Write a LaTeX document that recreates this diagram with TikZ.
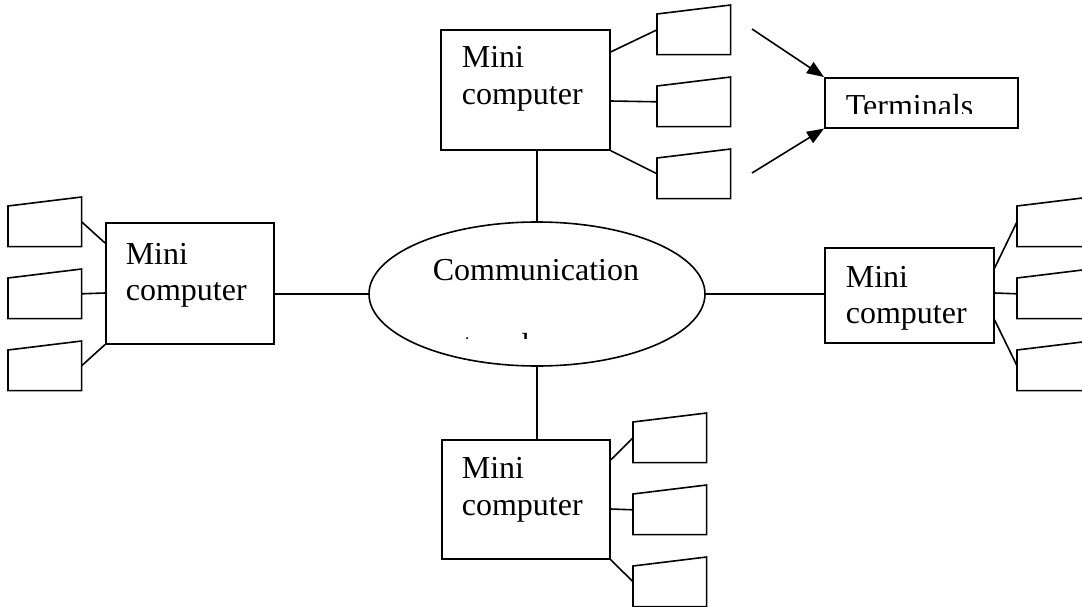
\documentclass[tikz,border=0pt]{standalone}
\usepackage{fontspec}
\setmainfont{Liberation Serif}
\usetikzlibrary{arrows.meta,calc,shapes.geometric}
\newcommand\termi[3]{%
  \node[termbase] (#1) at (#2,#3) {};
  \draw (#1.south west) -- ([yshift=-9pt]#1.north west) -- (#1.north east) -- (#1.south east) -- cycle;}
\begin{document}
\begin{tikzpicture}[x=1pt,y=-1pt,line width=1.6pt,
  mbox/.style={draw,rectangle,inner sep=0,anchor=north west},
  termbase/.style={rectangle,inner sep=0,anchor=north west,minimum width=72pt,minimum height=48pt},
  lbl/.style={anchor=base west,inner sep=0,font=\fontsize{32}{37}\selectfont},
  arr/.style={-{Triangle[length=17pt,width=13pt]}}]
\useasboundingbox (0,0) rectangle (1082,607);
\clip (0,0) rectangle (1082,607);
\fill[white] (0,0) rectangle (1082,607);

% minicomputer boxes
\node[mbox,minimum width=169pt,minimum height=120pt] (tbox) at (440,29) {};
\node[mbox,minimum width=168pt,minimum height=121pt] (lbox) at (105,222) {};
\node[mbox,minimum width=169pt,minimum height=95pt] (rbox) at (824,247) {};
\node[mbox,minimum width=168pt,minimum height=119pt] (bbox) at (441,439) {};
\node[mbox,minimum width=193pt,minimum height=50pt] (term) at (824,77) {};

\node[lbl] (tA) at (461,68) {Mini};
\node[lbl] (tB) at (461,105) {computer};
\node[lbl] (lA) at (125,264) {Mini};
\node[lbl] (lB) at (125,300) {computer};
\node[lbl] (rA) at (845,287) {Mini};
\node[lbl] (rB) at (845,323) {computer};
\node[lbl] (bA) at (461,478) {Mini};
\node[lbl] (bB) at (461,515) {computer};

% communication network
\node[draw,ellipse,inner sep=0,minimum width=336pt,minimum height=144pt] (net) at (537,294) {};
\node[lbl] (netA) at (432,280) {Communication};
\begin{scope}
\clip (0,0) rectangle (1082,338);
\node[lbl] (netB) at (432,355.5) {network};
\end{scope}
\begin{scope}
\clip (0,0) rectangle (1082,114);
\node[lbl] (termT) at (845,117) {Terminals};
\end{scope}

% terminals
\termi{t1}{657}{5}
\termi{t2}{657}{77}
\termi{t3}{657}{149}
\termi{l1}{8}{197}
\termi{l2}{8}{269}
\termi{l3}{8}{341}
\termi{r1}{1017}{197}
\termi{r2}{1017}{269}
\termi{r3}{1017}{341}
\termi{b1}{633}{413}
\termi{b2}{633}{485}
\termi{b3}{633}{557}

% links to network
\draw (net.north) -- (net.north |- tbox.south);
\draw (net.south) -- (net.south |- bbox.north);
\draw (net.west) -- (net.west -| lbox.east);
\draw (net.east) -- (net.east -| rbox.west);

% links to terminals
\draw ([yshift=-23pt]tbox.north east) -- (t1.west);
\draw ([yshift=-72pt]tbox.north east) -- (t2.west);
\draw (tbox.south east) -- (t3.west);
\draw ([yshift=-21pt]lbox.north west) -- (l1.east);
\draw ([yshift=-71pt]lbox.north west) -- (l2.east);
\draw (lbox.south west) -- (l3.east);
\draw ([yshift=-21pt]rbox.north east) -- (r1.west);
\draw ([yshift=-46pt]rbox.north east) -- (r2.west);
\draw ([yshift=-73pt]rbox.north east) -- (r3.west);
\draw ([yshift=-21pt]bbox.north east) -- (b1.west);
\draw ([yshift=-70pt]bbox.north east) -- (b2.west);
\draw (bbox.south east) -- (b3.west);

% arrows
\coordinate (a1) at (752,29);
\coordinate (a2) at (752,173);
\draw[arr] (a1) -- (term.north west);
\draw[arr] (a2) -- (term.south west);
\end{tikzpicture}
\end{document}
